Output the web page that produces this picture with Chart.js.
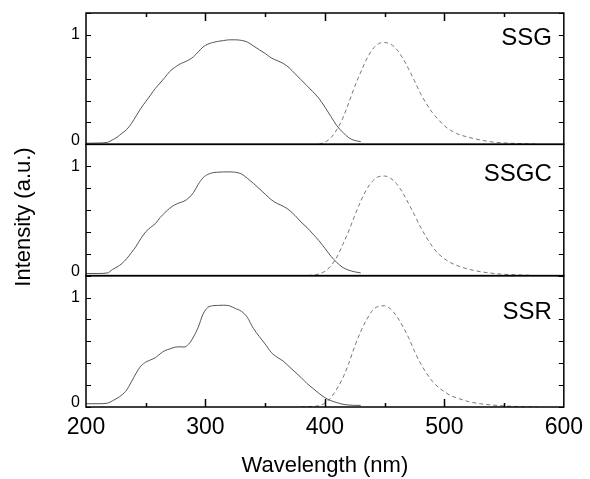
<!DOCTYPE html>
<html>
<head>
<meta charset="utf-8">
<script src="https://cdn.jsdelivr.net/npm/chart.js@4"></script>
<style>
  html, body { margin: 0; padding: 0; background: #fff; }
</style>
</head>
<body>
<canvas id="myChart" width="590" height="479"></canvas>
<script>
// Wavelength grids (nm)
const exNm = [200, 210, 218, 222, 226, 230, 234, 238, 242, 246, 250, 254, 258, 262, 266, 270, 274, 278, 282, 286,
    290, 294, 298, 302, 306, 310, 315, 320, 325, 330, 335, 340, 345, 350, 355, 360, 365, 370, 375, 380,
    385, 390, 395, 400, 405, 410, 415, 420, 425, 430];
const emNm = [380, 390, 395, 400, 405, 410, 415, 420, 425, 430, 435, 440, 445, 450, 455, 460, 465, 470, 475, 480,
    485, 490, 495, 500, 505, 510, 520, 530, 540, 550, 560, 570, 578];

// Excitation spectra (solid)
const ssgEx = [0.01, 0.012, 0.018, 0.04, 0.065, 0.1, 0.135, 0.19, 0.26, 0.33, 0.39, 0.45, 0.51, 0.56, 0.61, 0.665, 0.70, 0.73, 0.75, 0.77,
    0.80, 0.845, 0.89, 0.915, 0.93, 0.94, 0.948, 0.955, 0.955, 0.95, 0.935, 0.90, 0.865, 0.83, 0.79, 0.765, 0.74, 0.70, 0.645, 0.59,
    0.535, 0.48, 0.42, 0.34, 0.255, 0.17, 0.11, 0.06, 0.035, 0.025];
const ssgcEx = [0.02, 0.02, 0.025, 0.055, 0.08, 0.11, 0.155, 0.21, 0.27, 0.34, 0.40, 0.44, 0.475, 0.53, 0.575, 0.615, 0.645, 0.665, 0.68, 0.71,
    0.76, 0.835, 0.895, 0.925, 0.94, 0.945, 0.948, 0.948, 0.945, 0.93, 0.89, 0.845, 0.795, 0.745, 0.695, 0.66, 0.635, 0.60, 0.55, 0.49,
    0.44, 0.38, 0.32, 0.25, 0.178, 0.12, 0.075, 0.05, 0.035, 0.025];
const ssrEx = [0.03, 0.03, 0.035, 0.055, 0.08, 0.11, 0.155, 0.23, 0.31, 0.375, 0.41, 0.43, 0.45, 0.485, 0.515, 0.53, 0.545, 0.55, 0.548, 0.575,
    0.64, 0.73, 0.85, 0.91, 0.925, 0.928, 0.93, 0.925, 0.90, 0.875, 0.82, 0.72, 0.645, 0.575, 0.50, 0.455, 0.42, 0.37, 0.32, 0.27,
    0.215, 0.17, 0.125, 0.085, 0.058, 0.04, 0.025, 0.018, 0.015, 0.015];

// Emission spectra (dashed)
const ssgEm = [null, null, 0.0, 0.02, 0.06, 0.135, 0.24, 0.38, 0.53, 0.66, 0.78, 0.87, 0.92, 0.93, 0.915, 0.87, 0.79, 0.69, 0.58, 0.465,
    0.37, 0.29, 0.225, 0.17, 0.13, 0.10, 0.065, 0.04, 0.022, 0.013, 0.008, 0.004, 0.0];
const ssgcEm = [0.0, 0.005, 0.015, 0.04, 0.09, 0.17, 0.285, 0.41, 0.55, 0.68, 0.79, 0.865, 0.905, 0.91, 0.89, 0.84, 0.76, 0.66, 0.555, 0.445,
    0.35, 0.265, 0.20, 0.155, 0.12, 0.095, 0.06, 0.037, 0.022, 0.013, 0.008, 0.004, 0.0];
const ssrEm = [0.0, 0.005, 0.012, 0.035, 0.085, 0.165, 0.265, 0.40, 0.555, 0.69, 0.80, 0.885, 0.92, 0.925, 0.895, 0.83, 0.74, 0.635, 0.51, 0.40,
    0.31, 0.235, 0.18, 0.14, 0.105, 0.085, 0.05, 0.03, 0.018, 0.01, 0.005, 0.002, 0.0];

const panelNames = ['SSG', 'SSGC', 'SSR'];
const panelAxes = ['ySSG', 'ySSGC', 'ySSR'];
const xMinorTicks = [250, 300, 350, 400, 450, 500, 550];

Chart.defaults.font.family = '"Liberation Sans", Arial, sans-serif';
Chart.defaults.color = '#000';

const toPoints = (xs, ys) => xs.map((x, i) => ({ x: x, y: ys[i] }));

const exStyle = { borderColor: '#555', borderWidth: 1, pointRadius: 0, fill: false, cubicInterpolationMode: 'monotone' };
const emStyle = { borderColor: '#777', borderWidth: 1, borderDash: [4, 3], pointRadius: 0, fill: false, cubicInterpolationMode: 'monotone' };

const datasets = [
    Object.assign({ label: 'SSG ex', data: toPoints(exNm, ssgEx), yAxisID: 'ySSG' }, exStyle),
    Object.assign({ label: 'SSG em', data: toPoints(emNm, ssgEm), yAxisID: 'ySSG' }, emStyle),
    Object.assign({ label: 'SSGC ex', data: toPoints(exNm, ssgcEx), yAxisID: 'ySSGC' }, exStyle),
    Object.assign({ label: 'SSGC em', data: toPoints(emNm, ssgcEm), yAxisID: 'ySSGC' }, emStyle),
    Object.assign({ label: 'SSR ex', data: toPoints(exNm, ssrEx), yAxisID: 'ySSR' }, exStyle),
    Object.assign({ label: 'SSR em', data: toPoints(emNm, ssrEm), yAxisID: 'ySSR' }, emStyle)
];

// One stacked y axis per panel
const panelScale = function (weight) {
    return {
        type: 'linear',
        position: 'left',
        stack: 'panels',
        stackWeight: 1,
        weight: weight,
        min: 0,
        max: 1.2,
        grid: { display: false, drawTicks: false },
        border: { display: false },
        ticks: {
            stepSize: 0.2,
            autoSkip: false,
            padding: 6,
            font: { size: 16, lineHeight: 0.5 },
            // the "0" gets an empty second line so it sits a little above the panel edge
            callback: v => (Math.abs(v) < 1e-6 ? ['0', ''] : (Math.abs(v - 1) < 1e-6 ? '1' : ''))
        },
        afterFit(s) { s.width = 86; }
    };
};

/*
    Frames, inward ticks, panel names and the y title
*/
const framePlugin = {
    id: 'frames',
    afterDatasetsDraw(chart) {
        const ctx = chart.ctx;
        const area = chart.chartArea;
        const xs = chart.scales.x;
        ctx.save();
        ctx.strokeStyle = '#000';
        panelAxes.forEach((id, i) => {
            const s = chart.scales[id];
            ctx.lineWidth = 1.5;
            ctx.strokeRect(area.left, s.top, area.right - area.left, s.bottom - s.top);
            ctx.lineWidth = 1;
            s.ticks.forEach(t => {
                const py = Math.round(s.getPixelForValue(t.value)) + 0.5;
                ctx.beginPath();
                ctx.moveTo(area.left, py);
                ctx.lineTo(area.left + 5, py);
                ctx.moveTo(area.right, py);
                ctx.lineTo(area.right - 5, py);
                ctx.stroke();
            });
            ctx.fillStyle = '#000';
            ctx.font = '24px "Liberation Sans", Arial, sans-serif';
            ctx.textAlign = 'right';
            ctx.textBaseline = 'alphabetic';
            const labelAt = [0.908, 0.862, 0.806][i];
            ctx.fillText(panelNames[i], area.right - 12, s.getPixelForValue(labelAt));
        });
        // x ticks: up from bottom axis, down from top frame
        ctx.lineWidth = 1.5;
        xMinorTicks.forEach(v => {
            const px = Math.round(xs.getPixelForValue(v)) + 0.5;
            const len = v % 100 === 0 ? 8 : 4;
            ctx.beginPath();
            ctx.moveTo(px, area.bottom);
            ctx.lineTo(px, area.bottom - len);
            ctx.moveTo(px, area.top);
            ctx.lineTo(px, area.top + len);
            ctx.stroke();
        });
        // y axis title
        ctx.translate(30, 217);
        ctx.rotate(-Math.PI / 2);
        ctx.textAlign = 'center';
        ctx.textBaseline = 'alphabetic';
        ctx.font = '22px "Liberation Sans", Arial, sans-serif';
        ctx.fillText('Intensity (a.u.)', 0, 0);
        ctx.restore();
    }
};

const ctx = document.getElementById('myChart').getContext('2d');
const myChart = new Chart(ctx, {
    type: 'line',
    data: { datasets: datasets },
    options: {
        responsive: false,
        animation: false,
        layout: { padding: { left: 0, top: 13, right: 21, bottom: 0 } },
        plugins: { legend: { display: false }, tooltip: { enabled: false } },
        scales: {
            x: {
                type: 'linear',
                position: 'bottom',
                min: 200,
                max: 600,
                grid: { display: false, drawTicks: false },
                border: { display: false },
                ticks: { stepSize: 100, padding: 7, maxRotation: 0, font: { size: 23 } },
                title: { display: true, text: 'Wavelength (nm)', font: { size: 22 }, padding: 0 },
                afterFit(s) { s.height = 72; }
            },
            ySSR: panelScale(1),
            ySSGC: panelScale(2),
            ySSG: panelScale(3)
        }
    },
    plugins: [framePlugin]
});
</script>
</body>
</html>
